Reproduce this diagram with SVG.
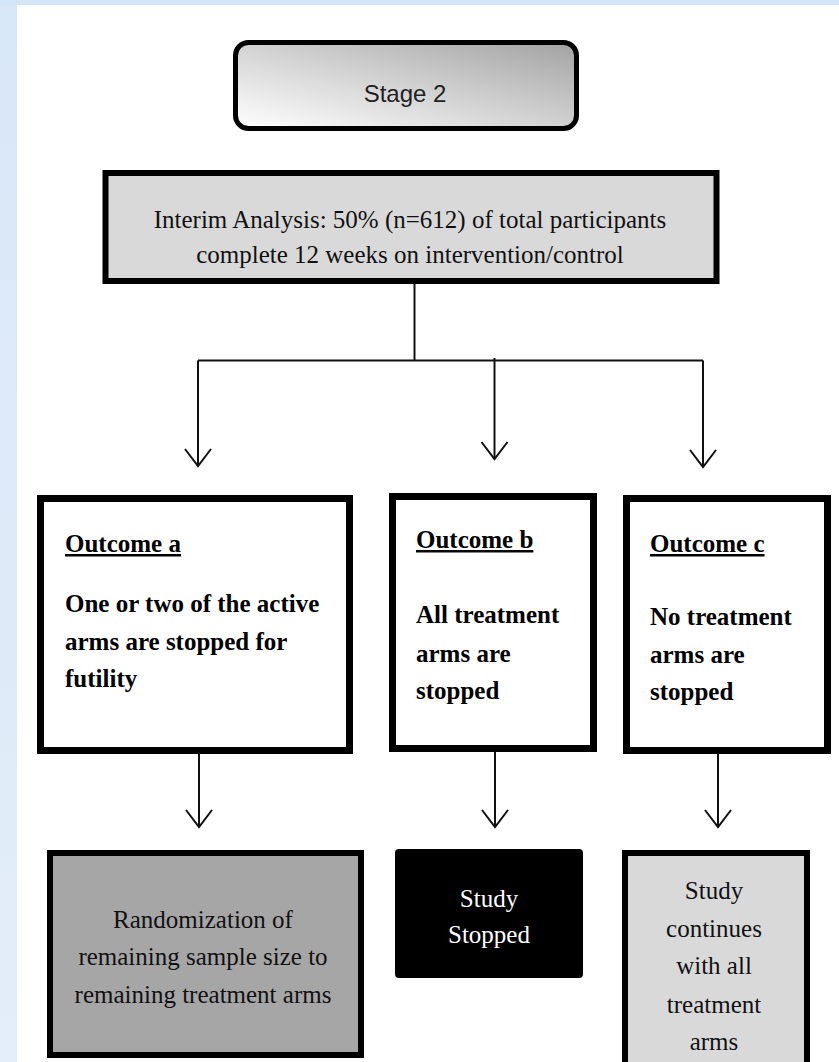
<svg xmlns="http://www.w3.org/2000/svg" width="839" height="1062" viewBox="0 0 839 1062">
  <defs>
    <linearGradient id="bgLeft" x1="0" y1="0" x2="0" y2="1">
      <stop offset="0" stop-color="#d8e7f8"/>
      <stop offset="0.6" stop-color="#dfeaf8"/>
      <stop offset="1" stop-color="#e4eefa"/>
    </linearGradient>
    <linearGradient id="stageGrad" x1="0" y1="1" x2="1" y2="0">
      <stop offset="0" stop-color="#ffffff"/>
      <stop offset="0.5" stop-color="#d2d2d2"/>
      <stop offset="1" stop-color="#a2a2a2"/>
    </linearGradient>
    <marker id="vhead" markerUnits="userSpaceOnUse" markerWidth="40" markerHeight="40" viewBox="-20 -20 40 40" refX="0" refY="0" orient="auto" overflow="visible">
      <path d="M-17,-13 L0,0 L-17,13" fill="none" stroke="#111" stroke-width="2"/>
    </marker>
  </defs>
  <style>
    .serif { font-family: "Liberation Serif", "Times New Roman", serif; font-size: 25px; fill: #111; }
    .bold { font-family: "Liberation Serif", "Times New Roman", serif; font-size: 25px; font-weight: bold; fill: #000; }
    .ul { text-decoration: underline; }
    .conn { fill: none; stroke: #111; stroke-width: 2; }
    .box { stroke: #000; }
    .white { fill: #ffffff; }
  </style>

  <!-- background -->
  <rect x="0" y="0" width="839" height="1062" fill="url(#bgLeft)"/>
  <rect x="0" y="0" width="839" height="5" fill="#d4e5f7"/>
  <rect x="17" y="5" width="822" height="1057" fill="#ffffff"/>

  <g id="stage2">
    <rect class="box" x="235.5" y="42.5" width="341" height="86" rx="13" ry="13" fill="url(#stageGrad)" stroke-width="5"/>
    <text x="405" y="102" text-anchor="middle" font-family="Liberation Sans, Arial, sans-serif" font-size="24" fill="#222">Stage 2</text>
  </g>

  <g id="interim">
    <rect class="box" x="105.5" y="173" width="611" height="108" fill="#d9d9d9" stroke-width="6"/>
    <text class="serif" x="410" y="228" text-anchor="middle">Interim Analysis: 50% (n=612) of total participants</text>
    <text class="serif" x="410" y="263" text-anchor="middle">complete 12 weeks on intervention/control</text>
  </g>

  <g id="outcome-a">
    <rect class="box" x="40.5" y="498.5" width="309" height="252" fill="#ffffff" stroke-width="7"/>
    <text class="bold ul" x="65" y="552">Outcome a</text>
    <text class="bold" x="65" y="612">One or two of the active</text>
    <text class="bold" x="65" y="650">arms are stopped for</text>
    <text class="bold" x="65" y="687">futility</text>
  </g>

  <g id="outcome-b">
    <rect class="box" x="392.5" y="496.5" width="201" height="252" fill="#ffffff" stroke-width="7"/>
    <text class="bold ul" x="416" y="548">Outcome b</text>
    <text class="bold" x="416" y="623">All treatment</text>
    <text class="bold" x="416" y="662">arms are</text>
    <text class="bold" x="416" y="699">stopped</text>
  </g>

  <g id="outcome-c">
    <rect class="box" x="626.5" y="498.5" width="201" height="252" fill="#ffffff" stroke-width="7"/>
    <text class="bold ul" x="650" y="552">Outcome c</text>
    <text class="bold" x="650" y="625">No treatment</text>
    <text class="bold" x="650" y="663">arms are</text>
    <text class="bold" x="650" y="700">stopped</text>
  </g>

  <g id="randomization">
    <rect class="box" x="50" y="853" width="311" height="202" fill="#a6a6a6" stroke-width="6"/>
    <text class="serif" x="203" y="928" text-anchor="middle">Randomization of</text>
    <text class="serif" x="203" y="965" text-anchor="middle">remaining sample size to</text>
    <text class="serif" x="203" y="1003" text-anchor="middle">remaining treatment arms</text>
  </g>

  <g id="study-stopped">
    <rect x="395" y="849" width="188" height="129" rx="4" ry="4" fill="#000000"/>
    <text class="serif white" x="489" y="907" text-anchor="middle">Study</text>
    <text class="serif white" x="489" y="943" text-anchor="middle">Stopped</text>
  </g>

  <g id="study-continues">
    <rect class="box" x="625" y="853" width="182" height="215" fill="#d9d9d9" stroke-width="6"/>
    <text class="serif" x="714" y="899" text-anchor="middle">Study</text>
    <text class="serif" x="714" y="937" text-anchor="middle">continues</text>
    <text class="serif" x="714" y="974" text-anchor="middle">with all</text>
    <text class="serif" x="714" y="1013" text-anchor="middle">treatment</text>
    <text class="serif" x="714" y="1050" text-anchor="middle">arms</text>
  </g>

  <g id="connectors">
    <path class="conn" d="M414.5,284 V360.5"/>
    <path class="conn" d="M198,360.5 H703"/>
    <path class="conn" d="M198,360.5 V466" marker-end="url(#vhead)"/>
    <path class="conn" d="M494.5,358 V459" marker-end="url(#vhead)"/>
    <path class="conn" d="M703,360.5 V467" marker-end="url(#vhead)"/>
    <path class="conn" d="M199,754 V827" marker-end="url(#vhead)"/>
    <path class="conn" d="M495,752 V827" marker-end="url(#vhead)"/>
    <path class="conn" d="M718,754 V827" marker-end="url(#vhead)"/>
  </g>
</svg>
